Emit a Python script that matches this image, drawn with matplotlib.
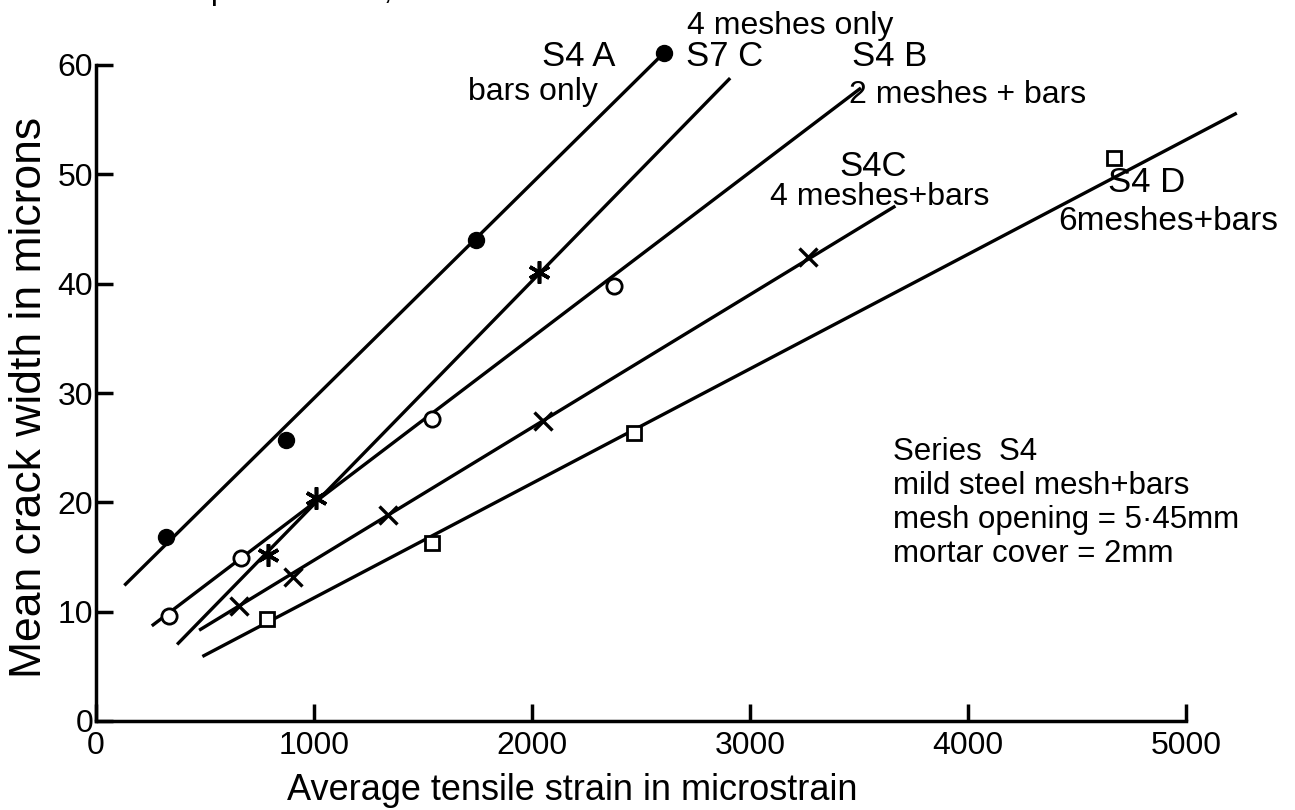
import matplotlib.pyplot as plt

plt.rcParams['font.family'] = ['Liberation Sans', 'DejaVu Sans']

# measured points (strain in microstrain, mean crack width in microns)
s4a_strain = [320, 870, 1745, 2605]
s4a_width = [16.8, 25.7, 44.0, 61.1]
s7c_strain = [787, 1010, 2030]
s7c_width = [15.2, 20.4, 41.1]
s4b_strain = [333, 667, 1540, 2377]
s4b_width = [9.6, 14.9, 27.6, 39.8]
s4c_strain = [657, 903, 1338, 2050, 3266]
s4c_width = [10.5, 13.2, 18.8, 27.4, 42.4]
s4d_strain = [783, 1541, 2470, 4670]
s4d_width = [9.3, 16.3, 26.3, 51.5]

# fitted lines, start and end
s4a_fit = ([130, 2605], [12.4, 61.1])
s7c_fit = ([372, 2909], [7.0, 58.8])
s4b_fit = ([256, 3509], [8.7, 57.9])
s4c_fit = ([473, 3667], [8.3, 47.1])
s4d_fit = ([488, 5233], [5.9, 55.6])

x_ticks = [0, 1000, 2000, 3000, 4000, 5000]
y_ticks = [0, 10, 20, 30, 40, 50, 60]

W, H = 1295, 810


def px(x, y):
    return x / W, 1 - y / H


fig = plt.figure(figsize=(W / 100, H / 100), dpi=100)
ax = fig.add_axes([96 / W, 1 - 721 / H, 1090 / W, 656 / H])

for fx, fy in [s4a_fit, s7c_fit, s4b_fit, s4c_fit, s4d_fit]:
    ax.plot(fx, fy, color='black', lw=2.4, clip_on=False, solid_capstyle='butt')

ax.plot(s4a_strain, s4a_width, ls='none', marker='o', ms=11.5, mfc='black',
        mec='black', clip_on=False, zorder=3)
ax.plot(s7c_strain, s7c_width, ls='none', marker=(6, 2, 0), ms=16, mew=2.6,
        color='black', clip_on=False, zorder=3)
ax.plot(s4b_strain, s4b_width, ls='none', marker='o', ms=11, mfc='white',
        mec='black', mew=2, clip_on=False, zorder=3)
ax.plot(s4c_strain, s4c_width, ls='none', marker='x', ms=13, mew=2.4,
        color='black', clip_on=False, zorder=3)
ax.plot(s4d_strain, s4d_width, ls='none', marker='s', ms=10, mfc='white',
        mec='black', mew=2, clip_on=False, zorder=3)

ax.set_xlim(0, 5000)
ax.set_ylim(0, 60)
ax.set_xticks(x_ticks)
ax.set_yticks(y_ticks)
ax.tick_params(direction='in', length=12, width=2.5, labelsize=23)
ax.tick_params(axis='y', pad=2)
ax.tick_params(axis='x', pad=7)
for side in ['top', 'right']:
    ax.spines[side].set_visible(False)
for side in ['left', 'bottom']:
    ax.spines[side].set_linewidth(2.5)

fig.text(*px(30, 397), 'Mean crack width in microns', rotation=90,
         ha='center', va='center', fontsize=32)
fig.text(*px(572, 790), 'Average tensile strain in microstrain',
         ha='center', va='center', fontsize=26)

# curve labels
fs = 23
fig.text(*px(790, 26), '4 meshes only', ha='center', va='center', fontsize=fs)
fig.text(*px(725, 57), 'S7 C', ha='center', va='center', fontsize=fs + 2)
fig.text(*px(579, 57), 'S4 A', ha='center', va='center', fontsize=fs + 2)
fig.text(*px(533, 92), 'bars only', ha='center', va='center', fontsize=fs)
fig.text(*px(890, 57), 'S4 B', ha='center', va='center', fontsize=fs + 2)
fig.text(*px(968, 95), '2 meshes + bars', ha='center', va='center', fontsize=fs)
fig.text(*px(873, 167), 'S4C', ha='center', va='center', fontsize=fs + 2)
fig.text(*px(880, 197), '4 meshes+bars', ha='center', va='center', fontsize=fs)
fig.text(*px(1147, 182), 'S4 D', ha='center', va='center', fontsize=fs + 2)
fig.text(*px(1168, 222), '6meshes+bars', ha='center', va='center', fontsize=fs + 1)

# series note
note = ['Series  S4', 'mild steel mesh+bars', 'mesh opening = 5·45mm',
        'mortar cover = 2mm']
for i, line in enumerate(note):
    fig.text(*px(893, 452 + 34 * i), line, ha='left', va='center', fontsize=22.5)

# caption line running off the top edge
fig.text(*px(145, -1), 'with partial cover,', ha='left', va='baseline', fontsize=fs)

fig.savefig('out.png', dpi=100)
